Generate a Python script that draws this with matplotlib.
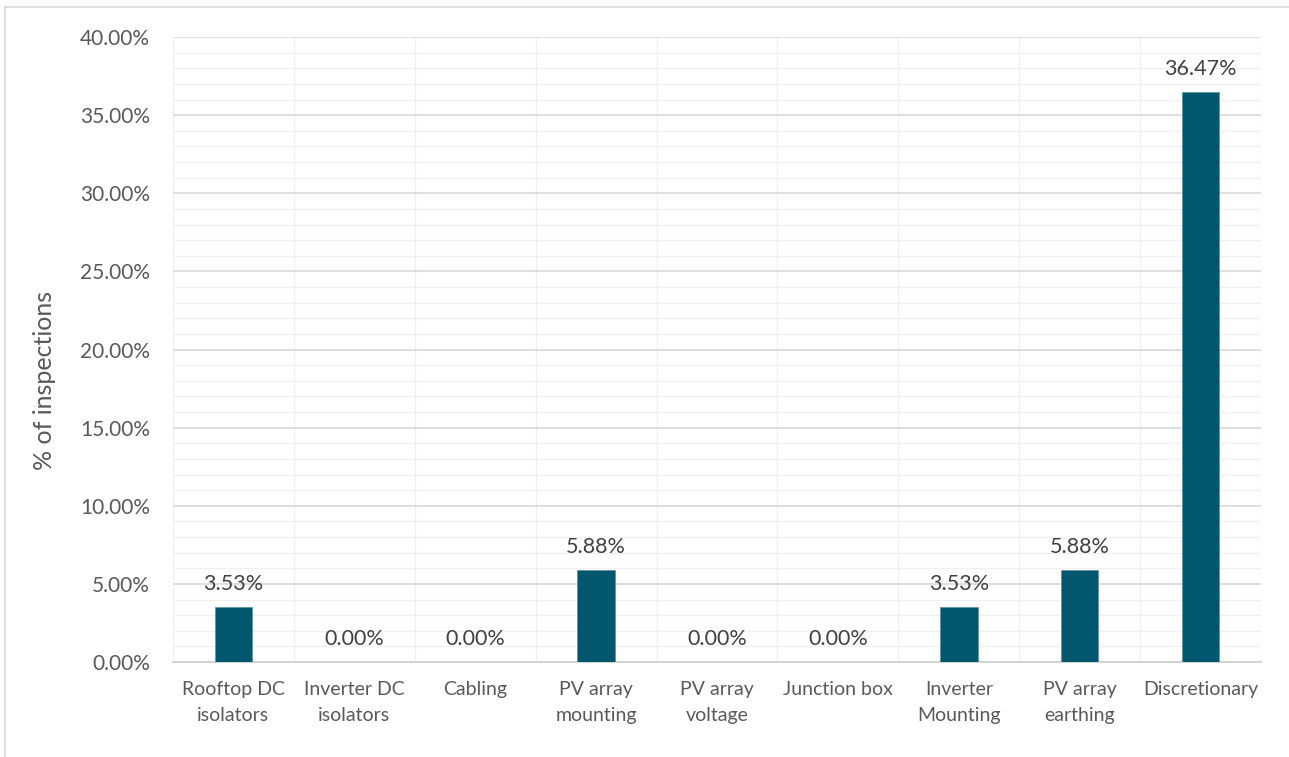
import matplotlib
matplotlib.use("Agg")
import matplotlib.pyplot as plt
import numpy as np
from matplotlib.lines import Line2D

categories = ["Rooftop DC\nisolators", "Inverter DC\nisolators", "Cabling", "PV array\nmounting",
              "PV array\nvoltage", "Junction box", "Inverter\nMounting", "PV array\nearthing", "Discretionary"]
values = [3.53, 0.00, 0.00, 5.88, 0.00, 0.00, 3.53, 5.88, 36.47]

W, H = 1289, 757
plt.rcParams['font.family'] = ['Lato', 'DejaVu Sans']
txt = '#595959'

fig = plt.figure(figsize=(W / 100, H / 100), dpi=100)
ax = fig.add_axes([173 / W, 1 - 662 / H, (1261 - 173) / W, (662 - 37) / H])

x = np.arange(len(categories))
ax.bar(x, values, width=0.31, color='#02576F', edgecolor='#4f8aa0', linewidth=0.4, zorder=3)
for xi, v in zip(x, values):
    ax.annotate(f"{v:.2f}%", (xi, v), xytext=(0, 9.5), textcoords='offset points',
                ha='center', va='bottom', fontsize=15.5, color='#404040')

ax.set_xlim(-0.5, len(categories) - 0.5)
ax.set_ylim(0, 40)
ax.set_yticks(np.arange(0, 41, 5))
ax.set_yticklabels([f"{t:.2f}%" for t in np.arange(0, 41, 5)])
ax.set_yticks(np.arange(0, 41, 1), minor=True)
ax.set_xticks(x)
ax.set_xticklabels(categories)
ax.set_xticks(np.arange(-0.5, len(categories), 0.5), minor=True)

ax.grid(which='major', axis='y', color='#d9d9d9', linewidth=1.2, zorder=0)
ax.grid(which='minor', axis='y', color='#f0f0f0', linewidth=1.0, zorder=0)
ax.grid(which='minor', axis='x', color='#f0f0f0', linewidth=1.0, zorder=0)
ax.set_axisbelow(True)

ax.tick_params(which='both', length=0)
ax.tick_params(axis='y', labelsize=15, labelcolor=txt, pad=16.5)
ax.tick_params(axis='x', labelsize=14, labelcolor=txt, pad=14)
for lbl in ax.get_xticklabels():
    lbl.set_linespacing(1.6)
for s in ['top', 'right', 'left']:
    ax.spines[s].set_visible(False)
ax.spines['bottom'].set_color('#d0d0d0')
ax.spines['bottom'].set_linewidth(1.3)

fig.text(45 / W, 1 - 380 / H, "% of inspections", rotation=90, ha='center', va='center',
         fontsize=18, color=txt)

# outer chart border (top and left visible)
fig.add_artist(Line2D([5 / W, 1.0], [1 - 7 / H, 1 - 7 / H], color='#d9d9d9', linewidth=1.2))
fig.add_artist(Line2D([5 / W, 5 / W], [0, 1 - 7 / H], color='#d9d9d9', linewidth=1.2))

fig.savefig("out.png", dpi=100, facecolor='white')
